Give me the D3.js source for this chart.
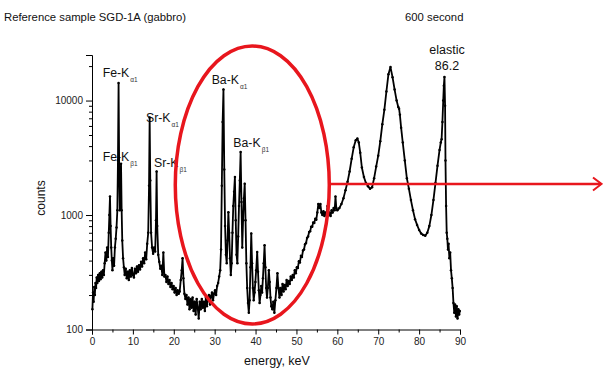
<!DOCTYPE html>
<html><head><meta charset="utf-8">
<script src="https://cdn.jsdelivr.net/npm/d3@7"></script>
<style>
html,body{margin:0;padding:0;background:#fff;}
svg{display:block;font-family:Arial,"Liberation Sans",sans-serif;}
</style></head>
<body><svg id="c" width="603" height="375"></svg>
<script>
// ---- data ----
const energy = [0.1,0.25,0.4,0.55,0.7,0.85,1.0,1.15,1.3,1.5,1.7,1.9,2.1,2.3,2.5,2.7,2.9,3.1,3.3,3.5,3.7,3.9,4.1,4.25,4.4,4.55,4.7,4.85,5.0,5.2,5.4,5.6,5.8,6.0,6.2,6.35,6.5,6.65,6.8,6.95,7.1,7.25,7.4,7.6,7.8,8.0,8.25,8.5,8.75,9.0,9.25,9.5,9.75,10.0,10.25,10.5,10.75,11.0,11.25,11.5,11.75,12.0,12.25,12.5,12.75,13.0,13.25,13.5,13.75,13.95,14.1,14.25,14.45,14.7,14.95,15.2,15.45,15.65,15.8,15.95,16.2,16.45,16.7,16.95,17.2,17.45,17.7,17.95,18.2,18.45,18.7,18.95,19.2,19.45,19.7,19.95,20.2,20.45,20.7,20.95,21.2,21.45,21.7,21.95,22.15,22.35,22.6,22.85,23.1,23.35,23.6,23.85,24.1,24.35,24.6,24.85,25.1,25.35,25.6,25.85,26.1,26.35,26.6,26.85,27.1,27.35,27.6,27.85,28.1,28.35,28.6,28.85,29.1,29.35,29.6,29.85,30.1,30.35,30.6,30.85,31.1,31.35,31.55,31.75,31.95,32.15,32.35,32.55,32.75,32.95,33.15,33.35,33.55,33.75,33.95,34.15,34.35,34.55,34.75,34.95,35.15,35.35,35.55,35.75,35.95,36.15,36.35,36.55,36.75,36.95,37.15,37.35,37.55,37.75,37.95,38.15,38.35,38.55,38.75,38.95,39.15,39.35,39.55,39.75,39.95,40.15,40.4,40.6,40.8,41.0,41.2,41.4,41.6,41.8,42.0,42.2,42.4,42.6,42.8,43.0,43.25,43.45,43.65,43.85,44.1,44.35,44.6,44.85,45.1,45.35,45.6,45.85,46.1,46.35,46.6,46.85,47.1,47.35,47.6,47.85,48.1,48.35,48.6,48.85,49.1,49.35,49.6,49.85,50.1,50.35,50.6,50.85,51.1,51.35,51.6,51.85,52.1,52.35,52.6,52.85,53.1,53.35,53.6,53.85,54.1,54.35,54.6,54.85,55.1,55.35,55.6,55.85,56.1,56.35,56.6,56.85,57.1,57.35,57.6,57.85,58.1,58.35,58.6,58.85,59.1,59.35,59.55,59.75,60.0,60.5,61.0,61.5,62.0,62.5,63.0,63.5,64.0,64.5,64.9,65.25,65.6,66.0,66.5,67.0,67.5,68.0,68.5,69.0,69.5,70.0,70.5,71.0,71.5,72.0,72.5,73.0,73.5,74.0,74.5,74.9,75.1,75.3,75.6,76.0,76.5,77.0,77.5,78.0,78.5,79.0,79.5,80.0,80.5,81.0,81.5,82.0,82.5,83.0,83.5,84.0,84.5,85.0,85.3,85.5,85.7,85.9,86.05,86.2,86.35,86.45,86.6,86.75,86.9,87.05,87.2,87.4,87.6,87.8,88.0,88.2,88.4,88.6,88.8,89.0,89.2,89.4,89.6,89.8,89.95];
const counts = [150,210,175,235,200,255,230,285,255,300,265,310,275,320,285,330,300,380,470,400,520,430,700,1000,1450,800,520,400,330,420,360,520,620,780,1100,3000,14200,2500,1100,1500,2800,1100,600,420,350,300,340,280,320,270,330,290,345,300,285,340,310,355,320,365,335,390,355,420,380,470,410,560,700,1800,7100,2000,700,520,460,520,480,900,2400,800,450,390,340,360,300,470,290,300,260,290,250,270,235,255,225,240,210,230,200,220,205,215,270,330,420,280,205,185,200,165,190,150,185,155,190,145,175,135,185,155,125,175,150,185,155,175,145,190,160,185,200,165,195,210,180,205,220,200,240,255,290,330,500,1800,6500,12500,2500,800,450,380,600,1060,700,420,300,380,700,1200,1600,2150,900,450,380,650,1200,2000,3560,1300,520,900,1400,1880,900,380,230,170,140,180,350,690,380,230,180,210,260,330,475,320,220,170,200,240,210,280,380,545,350,230,190,230,330,260,190,160,150,175,140,180,230,310,230,190,230,200,250,215,245,225,270,240,265,250,290,270,300,285,330,310,350,345,395,385,440,430,490,500,555,570,630,650,710,720,790,790,860,850,930,910,1050,1250,1150,1250,1050,1000,1080,980,1050,1000,1200,1000,1050,980,1100,1050,1150,1100,1450,1150,1100,1150,1250,1400,1650,1950,2400,3100,3900,4500,4650,4300,3500,2600,2150,1900,1780,1700,1750,2100,2650,3300,4400,6200,8300,12000,17000,19600,16000,12500,10000,8800,8500,7500,5800,4300,3000,2100,1700,1350,1100,920,820,740,690,670,660,700,800,1000,1350,1900,2700,3700,4300,4600,6500,10000,13500,16100,9000,3000,1200,700,620,500,560,420,470,330,280,230,170,140,165,130,160,125,150,135,145];

const xMajorTicks = [0,10,20,30,40,50,60,70,80,90];
const xMinorTicks = [5,15,25,35,45,55,65,75,85];
const yMajorTicks = [100,1000,10000];
const yMinorTicks = [200,300,400,500,600,700,800,900,2000,3000,4000,5000,6000,7000,8000,9000,20000];

const lineNames = ["Fe-K","Fe-K","Sr-K","Sr-K","Ba-K","Ba-K"];
const lineSubs  = ["α1","β1","α1","β1","α1","β1"];
const labelE    = [2.6,2.6,13.2,15.15,29.27,34.56];
const labelC    = [16000,2950,6460,2645,13960,3955];

const titleText = "Reference sample SGD-1A (gabbro)";
const timeText = "600 second";
const elasticText = ["elastic","86.2"];
const elasticE = 86.82;
const elasticC = [25500,18500];

// region highlighted by the red ellipse (centre in data units)
const highlightE = 39.2;
const highlightC = 1830;

// ---- drawing ----
const svg = d3.select("#c");
const x = d3.scaleLinear().domain([0,90]).range([92,460]);
const y = d3.scaleLog().domain([100,25000]).range([329.5,55]);

const txt = "#111";

svg.append("text").attr("x",4).attr("y",21).attr("font-size",11.3).attr("fill",txt).text(titleText);
svg.append("text").attr("x",405).attr("y",21).attr("font-size",11.3).attr("fill",txt).text(timeText);

// axes
function styleAxis(g){
  g.select(".domain").attr("stroke","#000").attr("stroke-width",1);
  g.selectAll(".tick line").attr("stroke","#000");
  g.selectAll(".tick text").attr("fill","#222").attr("font-size",10).attr("font-family","Arial,'Liberation Sans',sans-serif");
}
const gx = svg.append("g").attr("transform","translate(0,329.5)")
  .call(d3.axisBottom(x).tickValues(xMajorTicks).tickSize(5).tickPadding(3).tickFormat(d3.format("d")));
styleAxis(gx);
const gxm = svg.append("g").attr("transform","translate(0,329.5)")
  .call(d3.axisBottom(x).tickValues(xMinorTicks).tickSize(3).tickFormat(""));
gxm.select(".domain").remove(); gxm.selectAll(".tick line").attr("stroke","#000");

const gy = svg.append("g").attr("transform","translate(92,0)")
  .call(d3.axisLeft(y).tickValues(yMajorTicks).tickSize(6).tickPadding(3).tickFormat(d3.format("d")));
styleAxis(gy);
const gym = svg.append("g").attr("transform","translate(92,0)")
  .call(d3.axisLeft(y).tickValues(yMinorTicks).tickSize(3).tickFormat(""));
gym.select(".domain").remove(); gym.selectAll(".tick line").attr("stroke","#000");

// axis titles
svg.append("text").attr("transform","translate(45,198) rotate(-90)").attr("text-anchor","middle")
  .attr("font-size",12).attr("fill",txt).text("counts");
svg.append("text").attr("x",277).attr("y",365).attr("text-anchor","middle")
  .attr("font-size",12.5).attr("fill",txt).text("energy, keV");

// peak labels
lineNames.forEach((n,i)=>{
  const t = svg.append("text").attr("x",x(labelE[i])).attr("y",y(labelC[i]))
    .attr("font-size",12.3).attr("fill",txt);
  t.append("tspan").text(n);
  t.append("tspan").attr("dy",5).attr("dx",1).attr("font-size",6.5).attr("fill","#333").text(lineSubs[i]);
});
elasticText.forEach((s,i)=>{
  svg.append("text").attr("x",x(elasticE)).attr("y",y(elasticC[i])).attr("text-anchor","middle")
    .attr("font-size",12.5).attr("fill",txt).text(s);
});

// spectrum
const pts = energy.map((e,i)=>[e,counts[i]]);
svg.append("path").datum(pts)
  .attr("d",d3.line().x(d=>x(d[0])).y(d=>y(d[1])))
  .attr("fill","none").attr("stroke","#000").attr("stroke-width",1.8).attr("stroke-linejoin","round");
svg.append("g").selectAll("circle").data(pts).join("circle")
  .attr("cx",d=>x(d[0])).attr("cy",d=>y(d[1])).attr("r",1.25).attr("fill","#000");

// red annotation: ellipse + arrow
const red = "#e8161d";
const ecx = x(highlightE), ecy = y(highlightC);
svg.append("ellipse").attr("cx",ecx).attr("cy",ecy).attr("rx",77).attr("ry",139)
  .attr("fill","none").attr("stroke",red).attr("stroke-width",3.5);
const ay = ecy - 1;
svg.append("line").attr("x1",ecx+77).attr("x2",601).attr("y1",ay).attr("y2",ay)
  .attr("stroke",red).attr("stroke-width",2.3);
svg.append("path").attr("d",`M593,${ay-6.5} L601.5,${ay} L593,${ay+6.5}`)
  .attr("fill","none").attr("stroke",red).attr("stroke-width",2);
</script></body></html>
